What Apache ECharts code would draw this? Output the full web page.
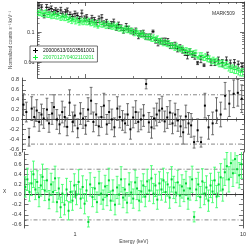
<!DOCTYPE html>
<html><head><meta charset="utf-8">
<script src="https://cdn.jsdelivr.net/npm/echarts@6/dist/echarts.min.js"></script>
<style>html,body{margin:0;padding:0;background:#fff}#c{width:249px;height:249px}</style>
</head><body><div id="c"></div>
<script>
const sourceName = 'MARK509';
const blackName = '20000613/0103561001';
const greenName = '20070127/0402110201';

const blackE = [0.51,0.53,0.55,0.57,0.59,0.61,0.63,0.65,0.67,0.70,0.72,0.75,0.77,0.80,0.83,0.86,0.89,0.92,0.95,0.99,1.02,1.06,1.10,1.14,1.18,1.22,1.27,1.31,1.36,1.41,1.46,1.51,1.57,1.62,1.68,1.74,1.81,1.87,1.94,2.01,2.08,2.16,2.24,2.32,2.40,2.49,2.58,2.67,2.77,2.87,2.97,3.08,3.19,3.31,3.43,3.55,3.68,3.81,3.95,4.10,4.25,4.40,4.56,4.73,4.90,5.10,5.35,5.60,5.90,6.20,6.55,6.90,7.30,7.75,8.20,8.70,9.20,9.70];
const blackFlux = [0.790,0.675,0.362,0.667,0.557,0.605,0.473,0.531,0.478,0.540,0.401,0.466,0.505,0.387,0.333,0.409,0.360,0.281,0.426,0.288,0.315,0.227,0.295,0.256,0.210,0.275,0.299,0.198,0.217,0.162,0.187,0.216,0.143,0.175,0.144,0.114,0.156,0.128,0.113,0.100,0.112,0.0754,0.0912,0.0940,0.0726,0.0710,0.0714,0.106,0.0539,0.0449,0.0509,0.0512,0.0511,0.0490,0.0360,0.0364,0.0372,0.0280,0.0311,0.0258,0.0212,0.0170,0.0229,0.0186,0.0166,0.0095,0.0126,0.0080,0.0172,0.0102,0.0101,0.0118,0.0098,0.0118,0.0094,0.0096,0.0086,0.0071];
const blackResid = [0.30,0.15,-0.36,0.22,0.05,0.18,-0.05,0.10,0.02,0.20,-0.08,0.12,0.25,0.00,-0.10,0.15,0.05,-0.15,0.34,-0.05,0.08,-0.18,0.12,0.02,-0.12,0.20,0.38,-0.05,0.10,-0.14,0.05,0.28,-0.10,0.15,0.00,-0.16,0.22,0.05,-0.02,-0.08,0.10,-0.20,0.04,0.15,-0.05,0.00,0.08,0.72,-0.06,-0.16,0.02,0.10,0.18,0.22,-0.04,0.04,0.14,-0.08,0.10,-0.02,-0.14,-0.26,0.06,-0.08,-0.12,-0.46,-0.22,-0.46,0.28,-0.16,-0.08,0.18,0.10,0.48,0.32,0.52,0.54,0.42];
const blackErr = [0.22,0.20,0.18,0.24,0.20,0.22,0.19,0.21,0.20,0.23,0.18,0.22,0.25,0.20,0.19,0.22,0.20,0.18,0.26,0.20,0.21,0.19,0.22,0.20,0.18,0.24,0.27,0.20,0.22,0.19,0.21,0.25,0.20,0.23,0.21,0.19,0.24,0.22,0.20,0.19,0.22,0.20,0.21,0.23,0.20,0.21,0.22,0.10,0.20,0.22,0.21,0.23,0.24,0.25,0.21,0.22,0.24,0.21,0.23,0.22,0.21,0.24,0.23,0.22,0.24,0.12,0.23,0.10,0.25,0.24,0.23,0.26,0.25,0.27,0.26,0.28,0.27,0.28];

const greenE = [0.505,0.52,0.535,0.55,0.565,0.58,0.595,0.61,0.625,0.64,0.66,0.68,0.70,0.72,0.74,0.76,0.78,0.80,0.82,0.84,0.865,0.89,0.915,0.94,0.965,0.99,1.02,1.05,1.08,1.11,1.14,1.17,1.20,1.23,1.27,1.31,1.35,1.39,1.43,1.47,1.51,1.55,1.59,1.63,1.68,1.73,1.78,1.83,1.88,1.93,1.98,2.04,2.10,2.16,2.22,2.28,2.34,2.41,2.48,2.55,2.62,2.69,2.77,2.85,2.93,3.01,3.09,3.18,3.27,3.36,3.46,3.56,3.66,3.76,3.87,3.98,4.09,4.21,4.33,4.45,4.58,4.71,4.84,4.98,5.12,5.27,5.42,5.57,5.73,5.89,6.06,6.23,6.41,6.59,6.78,6.97,7.17,7.37,7.58,7.80,8.02,8.25,8.48,8.72,8.97,9.23,9.50,9.80];
const greenFlux = [0.441,0.454,0.403,0.420,0.436,0.382,0.395,0.344,0.368,0.383,0.338,0.354,0.298,0.326,0.300,0.323,0.263,0.286,0.240,0.265,0.233,0.256,0.209,0.238,0.217,0.238,0.217,0.233,0.200,0.215,0.185,0.201,0.150,0.203,0.179,0.188,0.164,0.186,0.166,0.153,0.163,0.147,0.159,0.132,0.137,0.117,0.130,0.118,0.128,0.108,0.111,0.0945,0.103,0.0920,0.0831,0.0893,0.0813,0.0698,0.0710,0.0704,0.0614,0.0655,0.0578,0.0598,0.0507,0.0511,0.0435,0.0465,0.0420,0.0425,0.0368,0.0368,0.0315,0.0342,0.0305,0.0277,0.0284,0.0244,0.0248,0.0229,0.0229,0.0194,0.0199,0.0202,0.0141,0.0169,0.0167,0.0144,0.0154,0.0133,0.0132,0.0112,0.0119,0.0107,0.0109,0.00905,0.00934,0.00925,0.00796,0.00845,0.0070,0.0061,0.0064,0.0057,0.0059,0.0052,0.0047,0.0048];
const greenResid = [0.15,0.30,0.05,0.22,0.40,0.10,0.25,-0.05,0.18,0.35,0.08,0.28,-0.10,0.20,0.05,0.32,-0.15,0.12,-0.25,0.02,-0.20,0.10,-0.32,0.05,-0.12,0.18,0.00,0.25,-0.08,0.15,-0.18,0.08,-0.54,0.20,-0.05,0.12,-0.15,0.22,0.02,-0.10,0.16,-0.02,0.28,-0.12,0.08,-0.20,0.14,0.00,0.30,-0.06,0.10,-0.16,0.20,0.04,-0.08,0.24,0.12,-0.12,0.06,0.18,-0.04,0.26,0.08,0.32,0.02,0.18,-0.10,0.22,0.10,0.28,0.05,0.20,-0.06,0.30,0.14,0.04,0.24,-0.02,0.16,0.08,0.22,-0.08,0.12,0.30,-0.44,0.10,0.20,-0.05,0.26,0.02,0.14,-0.12,0.18,0.06,0.28,-0.04,0.20,0.34,0.10,0.44,0.56,0.30,0.62,0.42,0.70,0.50,0.38,0.60];
const greenErr = [0.20,0.22,0.18,0.24,0.26,0.20,0.22,0.19,0.21,0.25,0.20,0.23,0.18,0.22,0.20,0.24,0.19,0.21,0.20,0.18,0.20,0.22,0.18,0.21,0.19,0.23,0.20,0.24,0.19,0.22,0.20,0.21,0.10,0.23,0.19,0.22,0.20,0.24,0.21,0.19,0.22,0.20,0.24,0.19,0.21,0.20,0.22,0.19,0.25,0.20,0.21,0.20,0.23,0.21,0.19,0.24,0.22,0.20,0.21,0.23,0.20,0.24,0.21,0.25,0.20,0.22,0.19,0.23,0.21,0.24,0.20,0.23,0.21,0.25,0.22,0.20,0.24,0.21,0.23,0.22,0.24,0.21,0.23,0.26,0.10,0.22,0.24,0.21,0.25,0.22,0.23,0.21,0.24,0.22,0.26,0.22,0.24,0.27,0.23,0.26,0.27,0.25,0.28,0.26,0.28,0.27,0.25,0.28];

const xLabelValues = [1, 10];
const xMajorTicks = [1, 10];
const xMinorTicks = [0.6,0.7,0.8,0.9,2,3,4,5,6,7,8,9];
const fluxLabelValues = [0.01, 0.1];
const fluxMajorTicks = [0.01, 0.1, 1];
const fluxMinorTicks = [0.004,0.005,0.006,0.007,0.008,0.009,0.02,0.03,0.04,0.05,0.06,0.07,0.08,0.09,0.2,0.3,0.4,0.5,0.6,0.7,0.8,0.9];
const residTicks = [-0.6,-0.4,-0.2,0.0,0.2,0.4,0.6,0.8];
const residMinorTicks = [-0.5,-0.3,-0.1,0.1,0.3,0.5,0.7];
const refLevels = [-0.5, 0.5];
const zeroLevel = [0];

const AX = '#333';
const grids = [
  {left:22, right:5, top:2, height:76},
  {left:22, right:5, top:78, height:74},
  {left:22, right:5, top:152, height:76}
];

const xAxes = [], yAxes = [];
grids.forEach((g, gi) => {
  ['bottom','top'].forEach(pos => {
    xAxes.push({type:'log', gridIndex:gi, min:0.5, max:10, position:pos,
      axisLine:{show:true, lineStyle:{color:AX, width:0.8}},
      axisTick:{show:true, inside:true, length:4, customValues:xMajorTicks, lineStyle:{color:AX, width:0.7}},
      axisLabel:{show: gi===2 && pos==='bottom', customValues:xLabelValues, fontSize:5.5, color:AX, margin:3,
        formatter: v => String(+(+v).toPrecision(2))},
      splitLine:{show:false},
      name: (gi===2 && pos==='bottom') ? 'Energy (keV)' : '',
      nameLocation:'middle', nameGap:11, nameTextStyle:{fontSize:5, color:'#444'}
    });
    xAxes.push({type:'log', gridIndex:gi, min:0.5, max:10, position:pos,
      axisLine:{show:false},
      axisTick:{show:true, inside:true, length:2, customValues:xMinorTicks, lineStyle:{color:AX, width:0.6}},
      axisLabel:{show:false}, splitLine:{show:false}
    });
  });
  const isFlux = gi===0;
  const base = isFlux ? {type:'log', min:0.003, max:1} : {type:'value', min:-0.66, max:0.84};
  ['left','right'].forEach(pos => {
    yAxes.push(Object.assign({}, base, {gridIndex:gi, position:pos,
      axisLine:{show:true, lineStyle:{color:AX, width:0.8}},
      axisTick:{show:true, inside:true, length:4, customValues: isFlux ? fluxMajorTicks : residTicks, lineStyle:{color:AX, width:0.7}},
      axisLabel:{show: pos==='left', customValues: isFlux ? fluxLabelValues : residTicks, fontSize:5.5, color:AX, margin:3,
        formatter: v => isFlux ? String(+(+v).toPrecision(2)) : (+v).toFixed(1)},
      splitLine:{show:false},
      name: pos==='left' ? (gi===0 ? 'Normalized counts s\u207B\u00B9 keV\u207B\u00B9' : (gi===2 ? '\u03C7' : '')) : '',
      nameLocation:'middle', nameGap: gi===0 ? 14 : 13, nameRotate: gi===2 ? 0 : 90,
      nameTextStyle:{fontSize: gi===0 ? 4.6 : 6, color:'#444'}
    }));
    yAxes.push(Object.assign({}, base, {gridIndex:gi, position:pos,
      axisLine:{show:false},
      axisTick:{show:true, inside:true, length:2, customValues: isFlux ? fluxMinorTicks : residMinorTicks, lineStyle:{color:AX, width:0.6}},
      axisLabel:{show:false}, splitLine:{show:false}
    }));
  });
});

function errRender(pointColor, barColor, cross, lw) {
  return function (params, api) {
    const cs = params.coordSys;
    const x = api.value(0), y = api.value(1), lo = api.value(2), hi = api.value(3);
    const p = api.coord([x, y]);
    let a = api.coord([x, lo])[1], b = api.coord([x, hi])[1];
    const top = cs.y, bot = cs.y + cs.height;
    const children = [];
    const capA = a <= bot, capB = b >= top;
    a = Math.min(Math.max(a, top), bot);
    b = Math.min(Math.max(b, top), bot);
    if (a !== b) children.push({type:'line', shape:{x1:p[0], y1:a, x2:p[0], y2:b}, style:{stroke:barColor, lineWidth:lw}});
    if (capA) children.push({type:'line', shape:{x1:p[0]-1.4, y1:a, x2:p[0]+1.4, y2:a}, style:{stroke:barColor, lineWidth:lw}});
    if (capB) children.push({type:'line', shape:{x1:p[0]-1.4, y1:b, x2:p[0]+1.4, y2:b}, style:{stroke:barColor, lineWidth:lw}});
    if (p[1] >= top && p[1] <= bot) {
      if (cross) children.push({type:'line', shape:{x1:p[0]-1.5, y1:p[1], x2:p[0]+1.5, y2:p[1]}, style:{stroke:pointColor, lineWidth:1}});
      else children.push({type:'rect', shape:{x:p[0]-1, y:p[1]-1, width:2, height:2}, style:{fill:pointColor}});
    }
    return {type:'group', children};
  };
}

function fluxData(E, F, R) { return E.map((e, i) => [e, F[i], F[i]*(1-R[i]), F[i]*(1+R[i])]); }
function residData(E, V, R) { return E.map((e, i) => [e, V[i], V[i]-R[i], V[i]+R[i]]); }
function levelLine(gi, v, type, color) {
  return {type:'line', xAxisIndex: gi*4, yAxisIndex: gi*4, data:[[0.5, v],[10, v]], symbol:'none', silent:true,
    lineStyle:{color, width:0.7, type}, z:1};
}

const BLACK = '#000', BLACK_BAR = '#1a1a1a', GRAY_BAR = '#5e5e5e';
const GREEN = '#10ee3a', GREEN_BAR = '#30ff5a', GREEN_PT2 = '#00d232', GREEN_BAR2 = '#3dff6a';

const series = [];
refLevels.forEach(v => { series.push(levelLine(1, v, [4,2,1,2], '#555')); series.push(levelLine(2, v, [4,2,1,2], '#555')); });
zeroLevel.forEach(v => series.push(levelLine(2, v, [3,2], '#333')));
series.push({type:'custom', name:blackName, xAxisIndex:0, yAxisIndex:0, itemStyle:{color:BLACK},
  renderItem: errRender(BLACK, BLACK_BAR, true, 0.8), data: fluxData(blackE, blackFlux, blackErr), z:3});
series.push({type:'custom', name:greenName, xAxisIndex:0, yAxisIndex:0, itemStyle:{color:GREEN},
  renderItem: errRender(GREEN, GREEN_BAR, true, 0.8), data: fluxData(greenE, greenFlux, greenErr), z:4});
series.push({type:'custom', name:blackName, xAxisIndex:4, yAxisIndex:4, itemStyle:{color:BLACK},
  renderItem: errRender(BLACK, GRAY_BAR, false, 0.9), data: residData(blackE, blackResid, blackErr), z:3});
series.push({type:'custom', name:greenName, xAxisIndex:8, yAxisIndex:8, itemStyle:{color:GREEN},
  renderItem: errRender(GREEN_PT2, GREEN_BAR2, false, 0.9), data: residData(greenE, greenResid, greenErr), z:3});

const crossIcon = 'path://M4,0h2v10h-2zM0,4h10v2h-10z';
const chart = echarts.init(document.getElementById('c'), null, {renderer:'canvas'});
chart.setOption({
  animation:false,
  backgroundColor:'#fff',
  title:{text:sourceName, left:207, top:6, textStyle:{fontSize:5, fontWeight:'normal', color:'#333'}},
  legend:{left:30, top:46, orient:'vertical', padding:[2,3,2,3], itemGap:2, itemWidth:5, itemHeight:5,
    borderColor:'#333', borderWidth:0.7, backgroundColor:'#fff', selectedMode:false,
    data:[
      {name:blackName, icon:crossIcon, itemStyle:{color:BLACK}, textStyle:{color:'#000', fontSize:5}},
      {name:greenName, icon:crossIcon, itemStyle:{color:GREEN}, textStyle:{color:'#1fd940', fontSize:5}}
    ]},
  grid: grids,
  xAxis: xAxes,
  yAxis: yAxes,
  series
});
</script></body></html>
